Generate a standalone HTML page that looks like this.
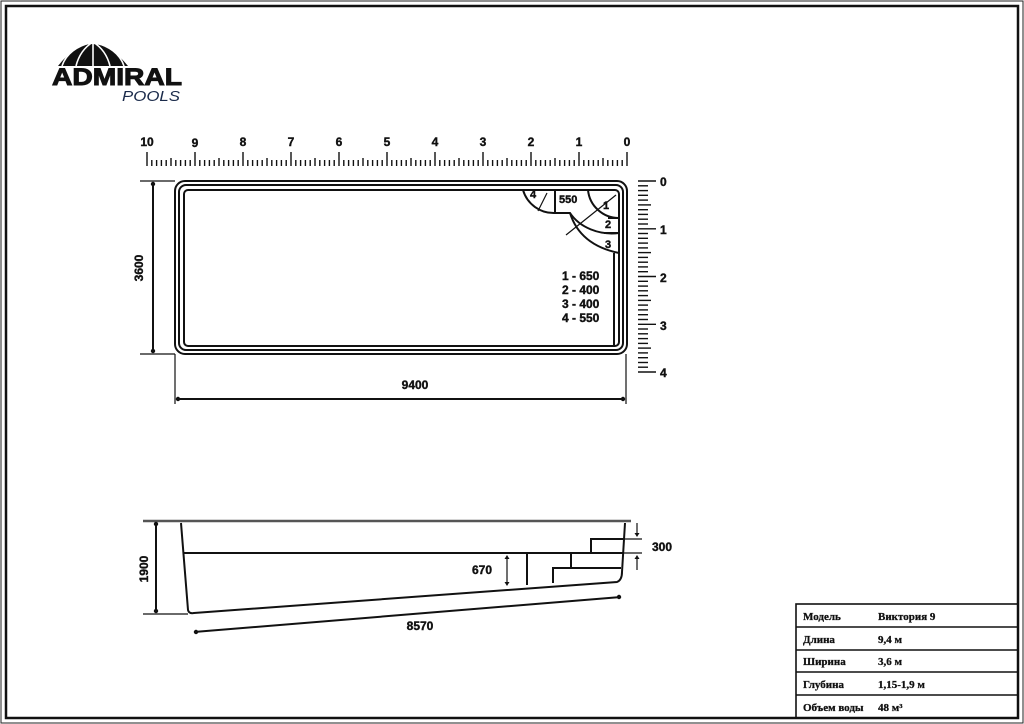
<!DOCTYPE html>
<html><head><meta charset="utf-8"><style>
html,body{margin:0;padding:0;background:#fff}
svg{display:block}
.b{font-family:"Liberation Sans",sans-serif;font-weight:bold;font-size:12px;fill:#111;stroke:#111;stroke-width:0.4}
.t{font-family:"Liberation Serif","DejaVu Serif",serif;font-weight:bold;font-size:11px;fill:#111;stroke:#111;stroke-width:0.3}
</style></head><body>
<svg id="s" width="1024" height="724" viewBox="0 0 1024 724" xmlns="http://www.w3.org/2000/svg">
<rect x="1" y="1" width="1022" height="722" fill="none" stroke="#222" stroke-width="1"/>
<rect x="6" y="6" width="1012" height="712" fill="none" stroke="#111" stroke-width="2.5"/>

<!-- logo -->
<path d="M58 66 Q92 22 128 66 Z" fill="#111"/>
<g stroke="#fff" stroke-width="1.6" fill="none">
<path d="M93 42 L93 66"/><path d="M93 42 Q80 50 76 66"/><path d="M93 42 Q106 50 110 66"/><path d="M93 42 Q68 48 62 66"/><path d="M93 42 Q118 48 124 66"/>
</g>
<text x="52" y="85" textLength="130" lengthAdjust="spacingAndGlyphs" style="font-family:'Liberation Sans',sans-serif;font-weight:900;font-size:24px;fill:#111;stroke:#111;stroke-width:1">ADMIRAL</text>
<text x="122" y="101" textLength="58" lengthAdjust="spacingAndGlyphs" style="font-family:'Liberation Sans',sans-serif;font-style:italic;font-size:15px;fill:#1a2a4a">POOLS</text>

<g id="ticks" stroke="#111" stroke-width="1.4"></g>
<g class="b">
<text x="147" y="146" text-anchor="middle">10</text><text x="195" y="147" text-anchor="middle">9</text><text x="243" y="146" text-anchor="middle">8</text><text x="291" y="146" text-anchor="middle">7</text><text x="339" y="146" text-anchor="middle">6</text><text x="387" y="146" text-anchor="middle">5</text><text x="435" y="146" text-anchor="middle">4</text><text x="483" y="146" text-anchor="middle">3</text><text x="531" y="146" text-anchor="middle">2</text><text x="579" y="146" text-anchor="middle">1</text><text x="627" y="146" text-anchor="middle">0</text>
<text x="660" y="186">0</text><text x="660" y="234">1</text><text x="660" y="282">2</text><text x="660" y="330">3</text><text x="660" y="377">4</text>
</g>

<!-- pool top view -->
<g fill="none" stroke="#111" stroke-width="2">
<rect x="175" y="181" width="452" height="173" rx="10"/>
<rect x="179" y="185" width="444" height="165" rx="7"/>
<rect x="184" y="190" width="435" height="156" rx="4"/>
<path d="M523 190 A32 32 0 0 0 555 213"/>
<line x1="555" y1="190" x2="555" y2="213"/>
<path d="M588 190 A31 31 0 0 0 619 218"/>
<path d="M555 213 L570 213 A48 40 0 0 0 619 233"/>
<path d="M570 213 Q580 245 619 253"/>
<line x1="608" y1="218" x2="619" y2="218"/>
<line x1="604" y1="233" x2="619" y2="233"/>
<line x1="614" y1="253" x2="614" y2="346"/>
<line x1="538" y1="211" x2="547" y2="193" stroke-width="1.2"/>
<line x1="566" y1="235" x2="616" y2="195" stroke-width="1.2"/>
<line x1="140" y1="181" x2="175" y2="181" stroke-width="1.2"/>
<line x1="140" y1="354" x2="175" y2="354" stroke-width="1.2"/>
<line x1="153" y1="183" x2="153" y2="352"/>
<line x1="175" y1="354" x2="175" y2="404" stroke-width="1.2"/>
<line x1="626" y1="354" x2="626" y2="404" stroke-width="1.2"/>
<line x1="177" y1="399" x2="624" y2="399"/>
</g>
<g fill="#111"><circle cx="153" cy="184" r="2.2"/><circle cx="153" cy="351" r="2.2"/><circle cx="178" cy="399" r="2.2"/><circle cx="623" cy="399" r="2.2"/></g>
<g class="b">
<text x="530" y="198" font-size="11">4</text><text x="559" y="203" font-size="11">550</text>
<text x="603" y="209" font-size="11">1</text><text x="605" y="228" font-size="11">2</text><text x="605" y="248" font-size="11">3</text>
<text x="562" y="280">1 - 650</text><text x="562" y="294">2 - 400</text><text x="562" y="308">3 - 400</text><text x="562" y="322">4 - 550</text>
<text x="415" y="389" text-anchor="middle">9400</text>
<text transform="translate(143,268) rotate(-90)" text-anchor="middle">3600</text>
</g>

<!-- side view -->
<g fill="none" stroke="#111" stroke-width="2">
<line x1="143" y1="521" x2="631" y2="521" stroke="#555" stroke-width="2.5"/>
<path d="M181 523 L188 610 Q189 614 194 613 L617 582 Q622 580 622 572 L625 523"/>
<line x1="183" y1="553" x2="623" y2="553"/>
<path d="M553 583 L553 568 L571 568 L571 553 M571 553 L591 553 L591 539 L624 539"/>
<line x1="553" y1="568" x2="621" y2="568"/>
<line x1="527" y1="553" x2="527" y2="585"/>
<line x1="507" y1="557" x2="507" y2="584" stroke-width="1.2"/>
<line x1="143" y1="614" x2="188" y2="614" stroke-width="1.2"/>
<line x1="156" y1="523" x2="156" y2="612"/>
<line x1="624" y1="539" x2="642" y2="539" stroke-width="1.2"/>
<line x1="624" y1="553" x2="642" y2="553" stroke-width="1.2"/>
<line x1="637" y1="523" x2="637" y2="535" stroke-width="1.2"/>
<line x1="637" y1="557" x2="637" y2="570" stroke-width="1.2"/>
<line x1="194" y1="632" x2="621" y2="597"/>
</g>
<g fill="#111">
<circle cx="156" cy="524" r="2.2"/><circle cx="156" cy="611" r="2.2"/>
<path d="M637 537 l-2.5 -4 h5z"/><path d="M637 555 l-2.5 4 h5z"/>
<path d="M507 555 l-2.5 4 h5z"/><path d="M507 586 l-2.5 -4 h5z"/>
<circle cx="196" cy="632" r="2.2"/><circle cx="619" cy="597" r="2.2"/>
</g>
<g class="b">
<text x="652" y="551">300</text>
<text x="472" y="574">670</text>
<text x="420" y="630" text-anchor="middle">8570</text>
<text transform="translate(148,569) rotate(-90)" text-anchor="middle">1900</text>
</g>

<!-- table -->
<g fill="none" stroke="#111" stroke-width="1.6">
<rect x="796" y="604" width="222" height="114"/>
<line x1="796" y1="627" x2="1018" y2="627"/>
<line x1="796" y1="650" x2="1018" y2="650"/>
<line x1="796" y1="672" x2="1018" y2="672"/>
<line x1="796" y1="695" x2="1018" y2="695"/>
</g>
<g class="t">
<text x="803" y="620">Модель</text><text x="878" y="620">Виктория 9</text>
<text x="803" y="643">Длина</text><text x="878" y="643">9,4 м</text>
<text x="803" y="665">Ширина</text><text x="878" y="665">3,6 м</text>
<text x="803" y="688">Глубина</text><text x="878" y="688">1,15-1,9 м</text>
<text x="803" y="711">Объем воды</text><text x="878" y="711">48 м³</text>
</g>
</svg>
<script>
var g=document.getElementById('ticks'),h='';
for(var i=0;i<=100;i++){var x=627-i*4.8;var L=i%10==0?152:(i%5==0?158:160);h+='<line x1="'+x.toFixed(1)+'" y1="'+L+'" x2="'+x.toFixed(1)+'" y2="166"/>';}
for(var j=0;j<=40;j++){var y=181+j*4.775;var R=j%10==0?656:(j%5==0?651:648);h+='<line x1="638" y1="'+y.toFixed(1)+'" x2="'+R+'" y2="'+y.toFixed(1)+'"/>';}
g.innerHTML=h;
</script>
</body></html>
